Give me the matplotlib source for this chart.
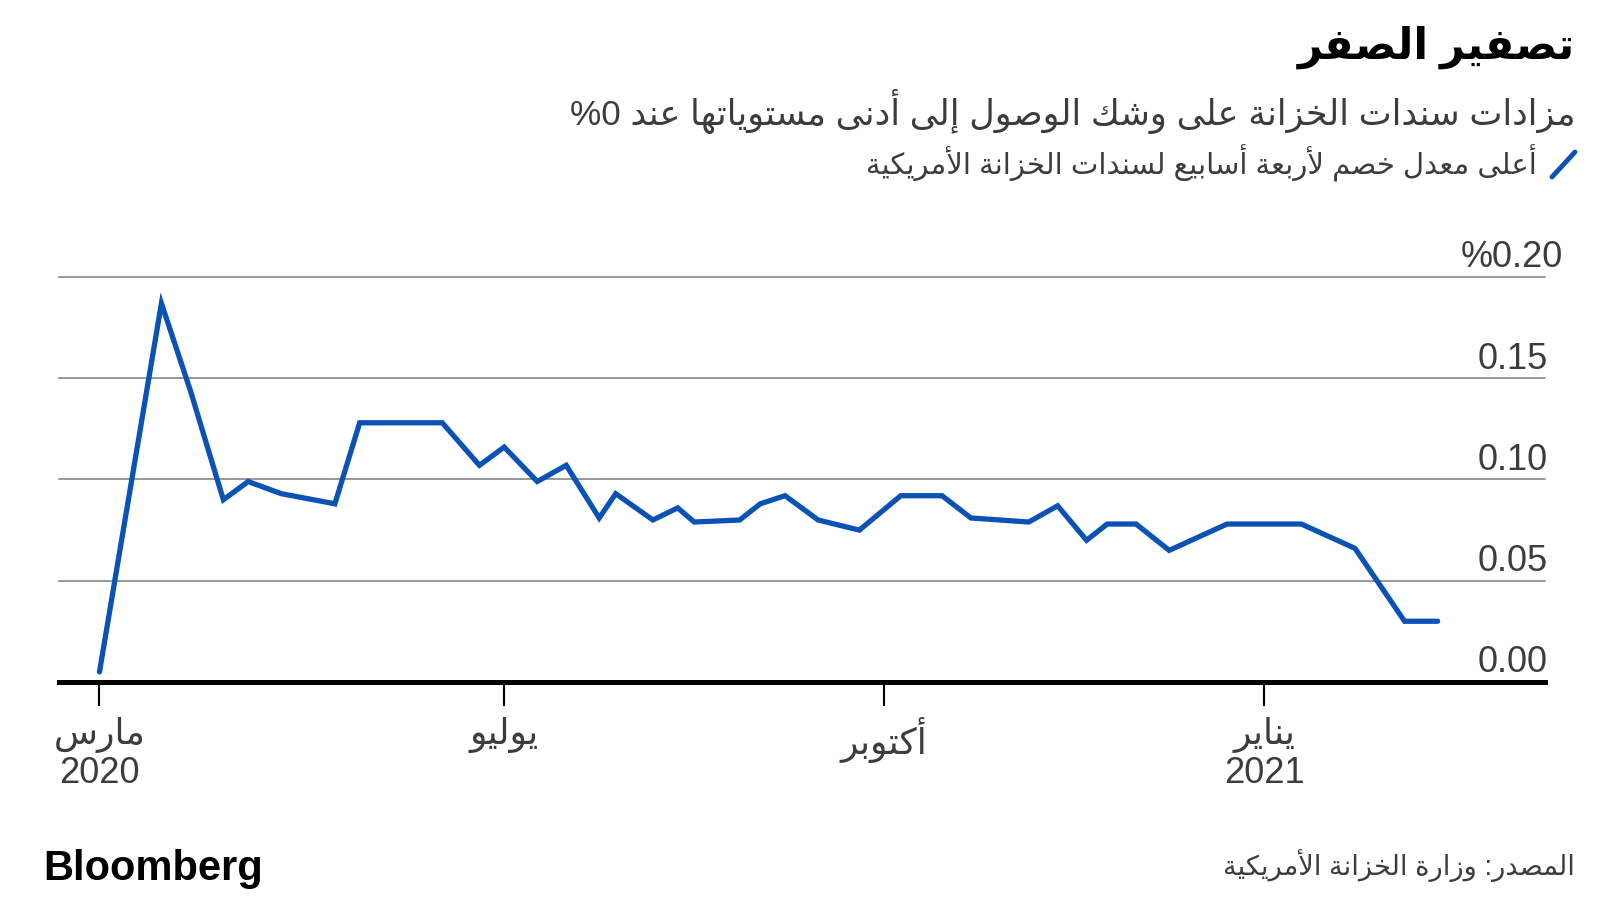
import re
import matplotlib
matplotlib.use("Agg")
import matplotlib.pyplot as plt
import matplotlib.dates as mdates
import matplotlib.transforms as mtransforms
from matplotlib.lines import Line2D
import pandas as pd

plt.rcParams['font.family'] = ['Liberation Sans', 'DejaVu Sans']

# 4-week bill high discount rate (%)
dates = pd.to_datetime([
    "2020-03-25", "2020-04-09", "2020-04-16", "2020-04-24", "2020-04-30",
    "2020-05-08", "2020-05-21", "2020-05-27", "2020-06-16", "2020-06-25",
    "2020-07-01", "2020-07-09", "2020-07-16", "2020-07-24", "2020-07-28",
    "2020-08-06", "2020-08-12", "2020-08-16", "2020-08-27", "2020-09-01",
    "2020-09-07", "2020-09-15", "2020-09-25", "2020-10-05", "2020-10-15",
    "2020-10-22", "2020-11-05", "2020-11-12", "2020-11-19", "2020-11-24",
    "2020-12-01", "2020-12-09", "2020-12-23", "2021-01-10", "2021-01-23",
    "2021-02-04", "2021-02-12",
])
rates = [
    0.005, 0.187, 0.144, 0.090, 0.099,
    0.093, 0.088, 0.128, 0.128, 0.107,
    0.116, 0.099, 0.107, 0.081, 0.093,
    0.080, 0.086, 0.079, 0.080, 0.088,
    0.092, 0.080, 0.075, 0.092, 0.092,
    0.081, 0.079, 0.087, 0.070, 0.078,
    0.078, 0.065, 0.078, 0.078, 0.066,
    0.030, 0.030,
]

tick_dates = pd.to_datetime(["2020-03-25", "2020-07-01", "2020-10-01", "2021-01-01"])
tick_labels = ["مارس\n2020", "يوليو", "أكتوبر", "يناير\n2021"]
ytick_values = [0.0, 0.05, 0.10, 0.15, 0.20]
ytick_labels = ["0.00", "0.05", "0.10", "0.15", "0.20%"]

title = "تصفير الصفر"
subtitle = "مزادات سندات الخزانة على وشك الوصول إلى أدنى مستوياتها عند 0%"
legend_label = "أعلى معدل خصم لأربعة أسابيع لسندات الخزانة الأمريكية"
source = "المصدر: وزارة الخزانة الأمريكية"

BLUE = '#0b52b6'
GREY = '#3c3c3c'

# matplotlib does no Arabic shaping, so pick the presentation forms by hand
# letter: (isolated form, joins to the following letter)
_BASE = {
    'ا': (0xFE8D, False), 'أ': (0xFE83, False), 'إ': (0xFE87, False), 'آ': (0xFE81, False),
    'ب': (0xFE8F, True), 'ة': (0xFE93, False), 'ت': (0xFE95, True), 'ث': (0xFE99, True),
    'ج': (0xFE9D, True), 'ح': (0xFEA1, True), 'خ': (0xFEA5, True), 'د': (0xFEA9, False),
    'ذ': (0xFEAB, False), 'ر': (0xFEAD, False), 'ز': (0xFEAF, False), 'س': (0xFEB1, True),
    'ش': (0xFEB5, True), 'ص': (0xFEB9, True), 'ض': (0xFEBD, True), 'ط': (0xFEC1, True),
    'ظ': (0xFEC5, True), 'ع': (0xFEC9, True), 'غ': (0xFECD, True), 'ف': (0xFED1, True),
    'ق': (0xFED5, True), 'ك': (0xFED9, True), 'ل': (0xFEDD, True), 'م': (0xFEE1, True),
    'ن': (0xFEE5, True), 'ه': (0xFEE9, True), 'و': (0xFEED, False), 'ى': (0xFEEF, False),
    'ي': (0xFEF1, True),
}
_LAM_ALEF = {'آ': 0xFEF5, 'أ': 0xFEF7, 'إ': 0xFEF9, 'ا': 0xFEFB}


def shape_line(s):
    out = []
    joined = False
    i = 0
    while i < len(s):
        c = s[i]
        nxt = s[i + 1] if i + 1 < len(s) else ''
        if c == 'ل' and nxt in _LAM_ALEF:
            out.append(chr(_LAM_ALEF[nxt] + joined))
            joined = False
            i += 2
            continue
        if c not in _BASE:
            out.append(c)
            joined = False
            i += 1
            continue
        base, dual = _BASE[c]
        to_next = dual and nxt in _BASE
        if joined and to_next:
            f = 3
        elif joined:
            f = 1
        elif to_next:
            f = 2
        else:
            f = 0
        out.append(chr(base + f))
        joined = to_next
        i += 1
    # right-to-left: reverse, but keep numbers readable
    runs = re.findall(r'[0-9.]+|[^0-9.]', ''.join(out))
    return ''.join(reversed(runs))


def ar(text):
    return '\n'.join(shape_line(l) for l in text.split('\n'))


fig = plt.figure(figsize=(16, 9), dpi=100)
ax = fig.add_axes([59 / 1600, 1 - 682 / 900, 1486 / 1600, 405 / 900])

ax.plot(dates, rates, color=BLUE, lw=3.8, solid_joinstyle='miter',
        solid_capstyle='round', clip_on=False, zorder=3)

for v in ytick_values[1:]:
    ax.axhline(v, color='#7a7a7a', lw=1.1, zorder=1, clip_on=False)
ax.axhline(0, color='black', lw=3.6, zorder=2, clip_on=False)

ax.set_ylim(0, 0.2)
ax.set_xlim(mdates.date2num(tick_dates[0]) - 9.8, mdates.date2num(tick_dates[-1]) + 68)

for s in ax.spines.values():
    s.set_visible(False)
ax.set_yticks([])
ax.set_xticks(tick_dates, [ar(t) for t in tick_labels])
ax.tick_params(axis='x', length=17, width=1.5, color='black', pad=8,
               labelsize=26, labelcolor=GREY)
for lab in ax.get_xticklabels():
    lab.set_linespacing(1.12)

trans = mtransforms.blended_transform_factory(ax.transAxes, ax.transData)
for v, t in zip(ytick_values, ytick_labels):
    dx = 11 if '%' in t else 0
    ax.annotate(ar(t), xy=(1.002, v), xycoords=trans, xytext=(dx, 7),
                textcoords='offset points', ha='right', va='baseline',
                fontsize=26, color=GREY)

fig.text(1575 / 1600, 1 - 47 / 900, ar(title), ha='right', va='center',
         fontsize=31, fontweight='bold', color='black')
fig.text(1575 / 1600, 1 - 111 / 900, ar(subtitle), ha='right', va='center',
         fontsize=25.3, color=GREY)
fig.text(1537 / 1600, 1 - 163 / 900, ar(legend_label), ha='right', va='center',
         fontsize=21, color=GREY)
fig.add_artist(Line2D([1552 / 1600, 1575 / 1600], [1 - 177 / 900, 1 - 152 / 900],
                      color=BLUE, lw=3.5, solid_capstyle='round'))

fig.text(43 / 1600, 1 - 869 / 900, 'Bloomberg', ha='left', va='center',
         fontsize=30, fontweight='bold', color='black')
fig.text(1575 / 1600, 1 - 866 / 900, ar(source), ha='right', va='center',
         fontsize=19.6, color=GREY)

fig.savefig('out.png', dpi=100, facecolor='white')
